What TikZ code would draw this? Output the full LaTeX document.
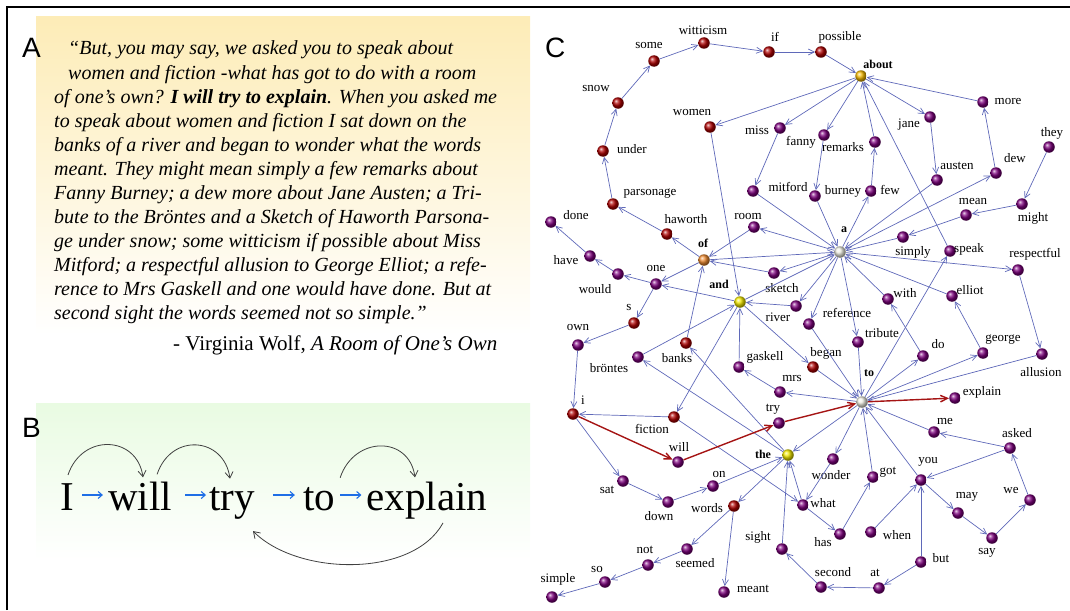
\documentclass[tikz,border=0pt]{standalone}
\usepackage{fontspec}
\setmainfont{Liberation Serif}
\newfontfamily\panelfont{Liberation Sans}
\usepackage{tikz}
\usetikzlibrary{arrows.meta,calc,positioning}

\definecolor{pcol}{RGB}{125,0,125}
\definecolor{rcol}{RGB}{175,0,0}
\definecolor{ycol}{RGB}{245,235,0}
\definecolor{gcol}{RGB}{245,185,0}
\definecolor{ocol}{RGB}{240,140,50}
\definecolor{wcol}{RGB}{240,240,228}
\definecolor{ecol}{RGB}{95,105,185}
\definecolor{pathcol}{RGB}{165,20,20}
\definecolor{ayel}{RGB}{253,236,183}
\definecolor{bgreen}{RGB}{233,251,226}
\definecolor{barr}{RGB}{30,110,230}

\begin{document}
\begin{tikzpicture}[x=1pt,y=-1pt,
    wnode/.style={circle, inner sep=0pt, minimum size=11.5pt},
    pnode/.style={wnode, ball color=pcol},
    rnode/.style={wnode, ball color=rcol},
    lbl/.style={font=\fontsize{13}{14}\selectfont, inner sep=0pt},
    blbl/.style={font=\fontsize{12}{14}\selectfont\bfseries, inner sep=0pt},
    edge/.style={draw=ecol, line width=0.7pt, -{Straight Barb[length=6pt,width=6pt]}},
    redge/.style={draw=pathcol, line width=1.4pt, -{Straight Barb[length=7pt,width=6.5pt]}},
    qline/.style={anchor=base west, inner sep=0pt, font=\fontsize{20}{24}\selectfont\itshape},
    panel/.style={anchor=base west, inner sep=0pt, font=\fontsize{28}{30}\selectfont\panelfont},
    bword/.style={anchor=base, inner sep=0pt, font=\fontsize{41}{45}\selectfont},
    barrow/.style={draw=barr, line width=1.1pt, -{Straight Barb[length=4pt,width=7pt]}},
    barc/.style={draw=black!75, line width=0.8pt, -{Straight Barb[length=6pt,width=8pt]}}]
  \useasboundingbox (0,0) rectangle (1070,610);

  % frame
  \draw[line width=2pt] (7,610) -- (7,7) -- (1070,7);

  % ---------------- A ----------------
  \shade[top color=ayel, bottom color=white] (36,17) rectangle (530,335);
  \node[panel] (pA) at (22,58) {A};
  \node[qline] (q1) at (68,55) {``But, you may say, we asked you to speak about};
  \node[qline] (q2) at (68,79) {women and fiction -what has got to do with a room};
  \node[qline] (q3) at (54,103) {of one's own? {\bfseries I will try to explain}. When you asked me};
  \node[qline] (q4) at (54,127) {to speak about women and fiction I sat down on the};
  \node[qline] (q5) at (54,151) {banks of a river and began to wonder what the words};
  \node[qline] (q6) at (54,175) {meant. They might mean simply a few remarks about};
  \node[qline] (q7) at (54,199) {Fanny Burney; a dew more about Jane Austen; a Tri-};
  \node[qline] (q8) at (54,223) {bute to the Bröntes and a Sketch of Haworth Parsona-};
  \node[qline] (q9) at (54,247) {ge under snow; some witticism if possible about Miss};
  \node[qline] (q10) at (54,271) {Mitford; a respectful allusion to George Elliot; a refe-};
  \node[qline] (q11) at (54,295) {rence to Mrs Gaskell and one would have done. But at};
  \node[qline] (q12) at (54,319) {second sight the words seemed not so simple.''};
  \node[anchor=base west, inner sep=0pt, font=\fontsize{21}{24}\selectfont] (src) at (173,350)
    {- Virginia Wolf, \textit{A Room of One's Own}};

  % ---------------- B ----------------
  \shade[top color=bgreen, bottom color=white] (36,403) rectangle (530,560);
  \node[panel] (pB) at (22,437) {B};
  \node[bword] (w1) at (67,510) {I};
  \node[bword] (w2) at (140,510) {will};
  \node[bword] (w3) at (232,510) {try};
  \node[bword] (w4) at (319,510) {to};
  \node[bword] (w5) at (427,510) {explain};
  \draw[barrow, shorten <=8pt, shorten >=5pt] ([yshift=15pt]w1.base east) -- ([yshift=15pt]w2.base west);
  \draw[barrow, shorten <=13pt, shorten >=3pt] ([yshift=15pt]w2.base east) -- ([yshift=15pt]w3.base west);
  \draw[barrow, shorten <=18pt, shorten >=8pt] ([yshift=15pt]w3.base east) -- ([yshift=15pt]w4.base west);
  \draw[barrow, shorten <=5pt, shorten >=5pt] ([yshift=15pt]w4.base east) -- ([yshift=15pt]w5.base west);
  \draw[barc] ([xshift=1pt,yshift=8pt]w1.north) .. controls +(14,-42) and +(-6,-42) .. ([xshift=3pt,yshift=4pt]w2.north);
  \draw[barc] ([xshift=-15pt,yshift=7pt]w2.north east) .. controls +(14,-42) and +(-6,-42) .. ([xshift=-2pt,yshift=8pt]w3.north);
  \draw[barc] ([xshift=5pt,yshift=9pt]w4.north east) .. controls +(14,-42) and +(-6,-42) .. ([xshift=-12pt,yshift=4pt]w5.north);
  \draw[barc] ([xshift=16pt,yshift=-4pt]w5.south) .. controls +(-30,55) and +(45,45) .. ([xshift=21pt,yshift=-12pt]w3.south);

  % ---------------- C ----------------
  \node[panel] (pC) at (545,58) {C};

  % red words
  \foreach \n/\x/\y/\lx/\ly in {some/654/61/649/46, witticism/704/43/703/30, if/769/52/775/37,
      possible/821/52/840/37, snow/618/103/596/89, under/603/151/632/149, parsonage/613/204/650/194,
      women/710/127/692/113, haworth/667/234/686/219, s/634/323/629/307, banks/686/343/677/358,
      i/573/414/583/400, fiction/674/417/652/429, began/813/367/826/353, words/734/506/707/508}{
    \node[rnode] (\n) at (\x,\y) {};
    \node[lbl] (\n-l) at (\lx,\ly) {\n};
  }
  % purple words
  \foreach \n/\x/\y/\lx/\ly in {miss/780/128/757/130, fanny/824/135/801/142, remarks/875/142/843/147,
      mitford/753/191/788/187, burney/815/196/843/191, few/871/191/890/190, more/983/102/1008/102,
      jane/930/117/909/125, austen/937/180/957/166, dew/996/173/1015/158, they/1049/147/1052/133,
      mean/966/215/973/201, might/1022/204/1033/218, simply/903/237/913/252, speak/950/251/969/249,
      respectful/1018/270/1035/254, room/754/227/748/216, done/551/222/576/215, have/590/256/566/260,
      would/618/274/595/289, one/656/284/656/268, sketch/774/273/782/288, river/796/306/778/317,
      with/888/299/905/293, elliot/952/296/970/290, own/578/345/578/327, reference/809/324/847/313,
      tribute/858/342/882/333, gaskell/739/367/765/357, do/923/356/938/344, george/983/353/1003/340,
      allusion/1042/354/1041/372, mrs/780/392/792/378, explain/955/398/982/392, try/779/423/773/409,
      me/934/432/945/421, asked/1010/448/1017/433, will/678/462/679/447, wonder/833/459/831/475,
      got/873/477/888/472, you/921/480/928/462, sat/623/481/607/490, on/713/486/719/474,
      down/668/502/659/516, what/803/505/823/503, may/958/513/967/497, we/1030/500/1011/490,
      has/840/534/823/542, when/871/532/897/535, say/992/538/987/553, sight/782/549/758/537,
      seemed/687/549/695/563, not/648/565/645/550, but/921/562/941/558, so/605/582/597/569,
      simple/552/597/558/579, meant/724/592/753/589, second/821/587/833/572, at/879/588/875/573}{
    \node[pnode] (\n) at (\x,\y) {};
    \node[lbl] (\n-l) at (\lx,\ly) {\n};
  }
  \node[pnode] (brontes) at (638,357) {};
  \node[lbl] (brontes-l) at (609,368) {bröntes};

  % hubs
  \node[wnode, ball color=gcol] (about) at (861,76) {};
  \node[wnode, ball color=wcol] (a) at (840,252) {};
  \node[wnode, ball color=ocol] (of) at (704,260) {};
  \node[wnode, ball color=ycol] (and) at (740,302) {};
  \node[wnode, ball color=ycol] (the) at (788,455) {};
  \node[wnode, ball color=wcol] (to) at (862,402) {};
  \node[blbl] (about-l) at (878,64) {about};
  \node[blbl] (a-l) at (844,230) {a};
  \node[blbl] (of-l) at (703,243) {of};
  \node[blbl] (and-l) at (719,284) {and};
  \node[blbl] (the-l) at (763,454) {the};
  \node[blbl] (to-l) at (869,373) {to};

  % word links
  \foreach \src/\dst in {but/you, you/may, may/say, say/we, we/asked, asked/you, you/to, to/speak,
      speak/about, about/women, women/and, and/fiction, fiction/what, what/has, has/got, got/to,
      to/do, do/with, with/a, a/room, room/of, of/one, one/s, s/own, own/i, when/you, asked/me,
      me/to, fiction/i, i/sat, sat/down, down/on, on/the, the/banks, banks/of, of/a, a/river,
      river/and, and/began, began/to, to/wonder, wonder/what, what/the, the/words, words/meant,
      they/might, might/mean, mean/simply, simply/a, a/few, few/remarks, remarks/about,
      about/fanny, fanny/burney, burney/a, a/dew, dew/more, more/about, about/jane, jane/austen,
      austen/a, a/tribute, tribute/to, to/the, the/brontes, brontes/and, and/a, a/sketch,
      sketch/of, of/haworth, haworth/parsonage, parsonage/under, under/snow, snow/some,
      some/witticism, witticism/if, if/possible, possible/about, about/miss, miss/mitford,
      mitford/a, a/respectful, respectful/allusion, allusion/to, to/george, george/elliot,
      elliot/a, a/reference, reference/to, to/mrs, mrs/gaskell, gaskell/and, and/one, one/would,
      would/have, have/done, but/at, at/second, second/sight, sight/the, words/seemed,
      seemed/not, not/so, so/simple}
    \draw[edge] (\src) -- (\dst);
  % the sentence path
  \foreach \src/\dst in {i/will, will/try, try/to, to/explain}
    \draw[redge] (\src) -- (\dst);
\end{tikzpicture}
\end{document}
